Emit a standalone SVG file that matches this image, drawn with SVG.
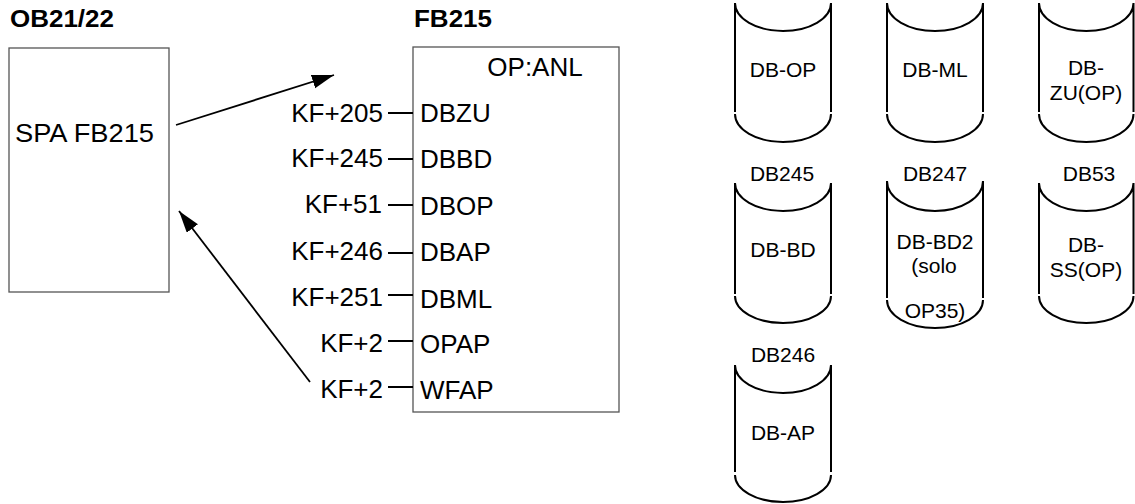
<svg xmlns="http://www.w3.org/2000/svg" width="1135" height="504" viewBox="0 0 1135 504">
<style>
text{font-family:"Liberation Sans",Arial,sans-serif;fill:#000}
.title{font-weight:bold;font-size:23px}
.lbl{font-size:26px}
.pinr{font-size:26px;text-anchor:end}
.cyl{fill:none;stroke:#000;stroke-width:2}
.ct{font-size:21px;text-anchor:middle}
.box{fill:#fff;stroke:#555;stroke-width:1.3}
.pin{stroke:#000;stroke-width:2}
.arr{stroke:#000;stroke-width:1.8;fill:none;marker-end:url(#ah)}
</style>
<defs>
<marker id="ah" markerUnits="userSpaceOnUse" markerWidth="23" markerHeight="15" refX="22" refY="7" orient="auto">
<path d="M0,0 L22,7 L0,14 z" fill="#000"/>
</marker>
</defs>
<rect width="1135" height="504" fill="#fff"/>

<g id="ob21">
<text class="title" x="10" y="27" textLength="104" lengthAdjust="spacingAndGlyphs">OB21/22</text>
<rect class="box" x="9" y="48" width="160" height="244"/>
<text class="lbl" x="15" y="142" textLength="139" lengthAdjust="spacingAndGlyphs">SPA FB215</text>
</g>

<g id="fb215">
<text class="title" x="414" y="27" textLength="78" lengthAdjust="spacingAndGlyphs">FB215</text>
<rect class="box" x="413" y="47" width="206" height="365"/>
<text class="lbl" x="535" y="76" text-anchor="middle">OP:ANL</text>
<text class="lbl" x="420" y="122">DBZU</text>
<text class="lbl" x="420" y="168">DBBD</text>
<text class="lbl" x="420" y="215">DBOP</text>
<text class="lbl" x="420" y="261">DBAP</text>
<text class="lbl" x="420" y="308">DBML</text>
<text class="lbl" x="420" y="353">OPAP</text>
<text class="lbl" x="420" y="399">WFAP</text>
</g>

<g id="params">
<text class="pinr" x="383" y="122">KF+205</text>
<text class="pinr" x="383" y="167">KF+245</text>
<text class="pinr" x="382" y="213">KF+51</text>
<text class="pinr" x="383" y="260">KF+246</text>
<text class="pinr" x="383" y="306">KF+251</text>
<text class="pinr" x="383" y="352">KF+2</text>
<text class="pinr" x="383" y="398">KF+2</text>
</g>

<g id="connectors">
<line class="pin" x1="388" y1="113" x2="413" y2="113"/>
<line class="pin" x1="388" y1="159" x2="413" y2="159"/>
<line class="pin" x1="388" y1="205" x2="413" y2="205"/>
<line class="pin" x1="388" y1="253" x2="413" y2="253"/>
<line class="pin" x1="388" y1="295" x2="413" y2="295"/>
<line class="pin" x1="388" y1="341" x2="413" y2="341"/>
<line class="pin" x1="388" y1="387" x2="413" y2="387"/>
<line class="arr" x1="176" y1="125" x2="334" y2="75"/>
<line class="arr" x1="310" y1="382" x2="179" y2="211"/>
</g>

<g id="db-op">
<path class="cyl" d="M735,3 V112 M831,3 V112 M735,3 A48,28 0 0 0 831,3 M735,114 A48,28 0 0 0 831,114"/>
<text class="ct" x="783" y="77">DB-OP</text>
</g>
<g id="db-ml">
<path class="cyl" d="M887,3 V112 M983,3 V112 M887,3 A48,28 0 0 0 983,3 M887,114 A48,28 0 0 0 983,114"/>
<text class="ct" x="935" y="77">DB-ML</text>
</g>
<g id="db-zu">
<path class="cyl" d="M1039,3 V112 M1133.5,3 V112 M1039,3 A47.25,28 0 0 0 1133.5,3 M1039,114 A47.25,28 0 0 0 1133.5,114"/>
<text class="ct" x="1086" y="75">DB-</text>
<text class="ct" x="1086" y="100">ZU(OP)</text>
</g>

<g id="db245">
<text class="ct" x="782" y="181" font-size="20">DB245</text>
<path class="cyl" d="M735,183 V294 M831,183 V294 M735,183 A48,28 0 0 0 831,183 M735,296 A48,27 0 0 0 831,296"/>
<text class="ct" x="783" y="257">DB-BD</text>
</g>
<g id="db247">
<text class="ct" x="935" y="181" font-size="20">DB247</text>
<path class="cyl" d="M887,181 V298 M983,181 V298 M887,181 A48,30 0 0 0 983,181 M887,300 A48,28 0 0 0 983,300"/>
<text class="ct" x="935" y="249">DB-BD2</text>
<text class="ct" x="934" y="273">(solo</text>
<text class="ct" x="935" y="318">OP35)</text>
</g>
<g id="db53">
<text class="ct" x="1089" y="181" font-size="20">DB53</text>
<path class="cyl" d="M1039,183 V294 M1133.5,183 V294 M1039,183 A47.25,28 0 0 0 1133.5,183 M1039,296 A47.25,27 0 0 0 1133.5,296"/>
<text class="ct" x="1086" y="252">DB-</text>
<text class="ct" x="1086" y="277">SS(OP)</text>
</g>

<g id="db246">
<text class="ct" x="783" y="362" font-size="20">DB246</text>
<path class="cyl" d="M735,365 V472 M831,365 V472 M735,365 A48,28 0 0 0 831,365 M735,475 A48,27 0 0 0 831,475"/>
<text class="ct" x="783" y="440">DB-AP</text>
</g>
</svg>
